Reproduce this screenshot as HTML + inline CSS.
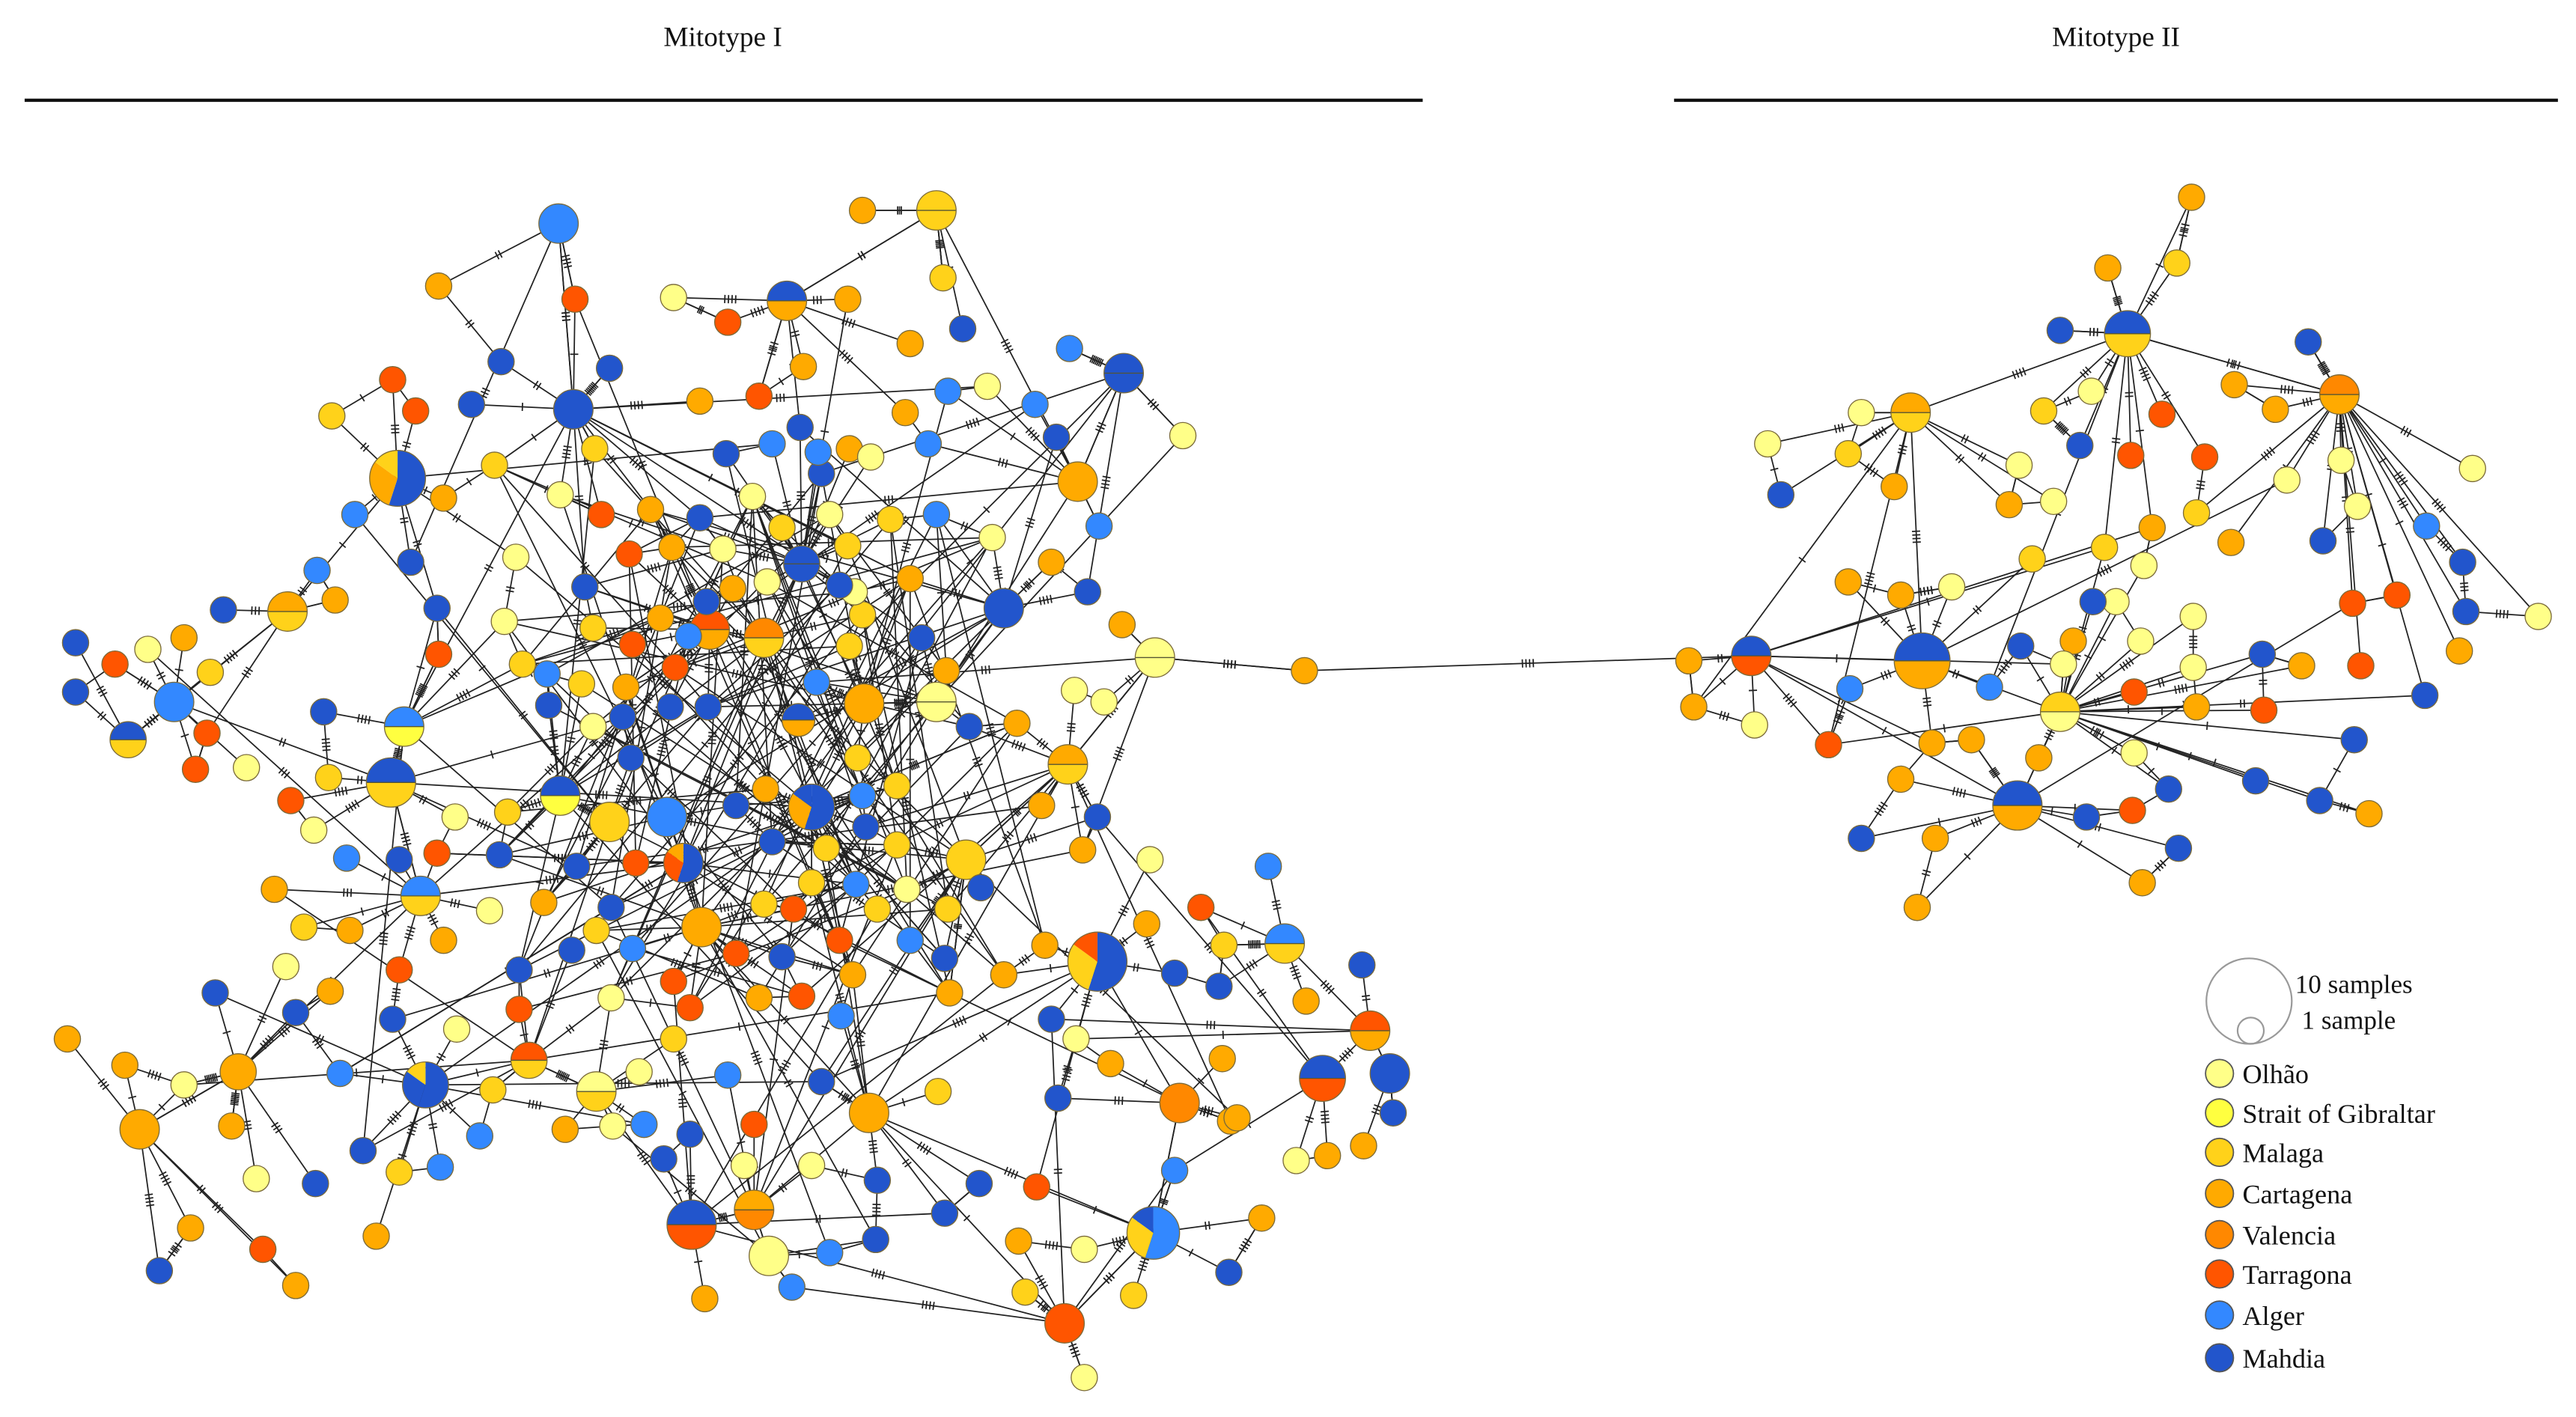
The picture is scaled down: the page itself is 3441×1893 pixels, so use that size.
<!DOCTYPE html>
<html><head><meta charset="utf-8"><style>
html,body{margin:0;padding:0;background:#fff;}
svg{display:block;}
text{font-family:"Liberation Serif",serif;fill:#111;}
</style></head><body>
<svg id="s" width="3441" height="1893" viewBox="0 0 1568 862" preserveAspectRatio="none" xmlns="http://www.w3.org/2000/svg">
<rect width="1568" height="862" fill="#fff"/>
<text x="440" y="28" font-size="17" text-anchor="middle">Mitotype I</text>
<text x="1288" y="28" font-size="17" text-anchor="middle">Mitotype II</text>
<line x1="15" y1="61" x2="866" y2="61" stroke="#111" stroke-width="2"/>
<line x1="1019" y1="61" x2="1557" y2="61" stroke="#111" stroke-width="2"/>
<g id="edges" stroke="#222" stroke-width="0.8"></g>
<g id="nodes"></g>
<g id="legend">
<circle cx="1369" cy="609" r="26" fill="none" stroke="#999" stroke-width="1"/>
<circle cx="1370" cy="627" r="8" fill="none" stroke="#999" stroke-width="1"/>
<text x="1397" y="604" font-size="16">10 samples</text>
<text x="1401" y="626" font-size="16">1 sample</text>
<circle cx="1351" cy="653" r="8.5" fill="#FFFF88" stroke="#555" stroke-width="0.8"/><text x="1365" y="659" font-size="16.5">Olhão</text>
<circle cx="1351" cy="677" r="8.5" fill="#FFFF40" stroke="#555" stroke-width="0.8"/><text x="1365" y="683" font-size="16.5">Strait of Gibraltar</text>
<circle cx="1351" cy="701" r="8.5" fill="#FFD21A" stroke="#555" stroke-width="0.8"/><text x="1365" y="707" font-size="16.5">Malaga</text>
<circle cx="1351" cy="726" r="8.5" fill="#FFAA00" stroke="#555" stroke-width="0.8"/><text x="1365" y="732" font-size="16.5">Cartagena</text>
<circle cx="1351" cy="751" r="8.5" fill="#FF8800" stroke="#555" stroke-width="0.8"/><text x="1365" y="757" font-size="16.5">Valencia</text>
<circle cx="1351" cy="775" r="8.5" fill="#FF5500" stroke="#555" stroke-width="0.8"/><text x="1365" y="781" font-size="16.5">Tarragona</text>
<circle cx="1351" cy="800" r="8.5" fill="#3388FF" stroke="#555" stroke-width="0.8"/><text x="1365" y="806" font-size="16.5">Alger</text>
<circle cx="1351" cy="826" r="8.5" fill="#2255CC" stroke="#555" stroke-width="0.8"/><text x="1365" y="832" font-size="16.5">Mahdia</text>
</g>
</svg>
<script>
var C={O:"#FFFF88",S:"#FFFF40",M:"#FFD21A",C:"#FFAA00",V:"#FF8800",T:"#FF5500",A:"#3388FF",D:"#2255CC"};
var raw1="340,136,12,A;350,182,8,T;410,181,8,O;267,174,8,C;305,220,8,D;239,231,8,T;202,253,8,M;253,250,8,T;287,246,8,D;349,249,12,D;242,291,17,DCM;216,313,8,A;270,303,8,C;301,283,8,M;362,273,8,M;371,224,8,D;426,244,8,C;443,196,8,T;462,241,8,T;489,223,8,C;479,183,12,DC;516,182,8,C;525,128,8,C;570,128,12,MM;574,169,8,M;554,209,8,C;586,200,8,D;577,238,8,A;601,235,8,O;630,246,8,A;651,212,8,A;684,227,12,DD;643,266,8,D;720,265,8,O;656,293,12,C;669,320,8,A;611,370,12,D;640,342,8,C;662,360,8,D;683,380,8,C;703,400,12,OO;654,420,8,O;672,427,8,O;619,440,8,C;590,442,8,D;570,427,12,OO;526,428,12,C;486,438,10,DC;497,415,8,A;517,393,8,M;525,374,8,M;561,388,8,D;576,408,8,C;520,360,8,O;511,356,8,D;554,352,8,C;516,332,8,M;505,313,8,O;500,288,8,D;517,273,8,C;530,278,8,O;551,251,8,C;565,270,8,A;542,316,8,M;570,313,8,A;604,327,8,O;498,275,8,A;470,270,8,A;487,260,8,D;458,302,8,O;476,321,8,M;488,343,11,DD;467,354,8,O;465,388,12,VM;432,383,12,TC;442,276,8,D;426,315,8,D;409,333,8,C;440,334,8,O;446,358,8,C;430,366,8,D;402,376,8,C;383,337,8,T;396,310,8,C;366,313,8,T;341,301,8,O;356,357,8,D;385,392,8,T;361,382,8,M;381,418,8,C;411,406,8,T;419,387,8,A;175,372,12,CM;204,365,8,C;193,347,8,A;136,371,8,D;128,409,8,M;112,388,8,C;90,395,8,O;70,404,8,T;46,391,8,D;46,421,8,D;106,427,12,A;78,450,11,DM;126,446,8,T;119,468,8,T;150,467,8,O;197,433,8,D;200,473,8,M;238,476,15,DM;246,442,12,AS;267,398,8,T;250,342,8,D;266,370,8,D;307,378,8,O;318,404,8,M;314,339,8,O;177,487,8,T;191,505,8,O;211,522,8,A;243,523,8,D;266,519,8,T;277,497,8,O;304,520,8,D;309,494,8,M;341,484,12,DS;371,500,12,M;406,497,12,A;384,461,8,D;361,442,8,O;334,429,8,D;354,416,8,M;333,410,8,A;379,436,8,D;408,430,8,D;431,430,8,D;448,490,8,D;466,480,8,C;494,491,14,DCD;525,484,8,A;546,478,8,M;522,461,8,M;167,541,8,C;213,566,8,C;185,564,8,M;256,545,12,AM;298,554,8,O;270,572,8,C;174,588,8,O;201,603,8,C;243,590,8,T;316,590,8,D;331,549,8,C;351,527,8,D;372,552,8,D;363,566,8,M;348,578,8,D;316,614,8,T;322,645,11,TM;278,626,8,O;239,620,8,D;207,653,8,A;259,660,14,DDM;300,663,8,M;292,691,8,A;268,710,8,A;221,700,8,D;243,713,8,M;192,720,8,D;229,752,8,C;156,717,8,O;141,685,8,C;145,652,11,C;112,660,8,O;85,687,12,C;76,648,8,C;41,632,8,C;131,604,8,D;180,616,8,D;116,747,8,C;97,773,8,D;160,760,8,T;180,782,8,C;416,525,12,DTC;387,525,8,T;427,564,12,C;448,580,8,T;462,607,8,C;488,606,8,T;476,582,8,D;465,550,8,M;483,553,8,T;494,537,8,M;503,516,8,M;521,538,8,A;534,553,8,M;552,541,8,O;546,514,8,M;527,503,8,D;588,523,12,M;597,540,8,D;577,553,8,M;554,572,8,A;575,583,8,D;578,604,8,C;611,593,8,C;636,575,8,C;668,585,18,DMT;640,620,8,D;655,632,8,O;676,647,8,C;644,668,8,D;718,671,12,V;749,682,8,C;731,552,8,T;745,575,8,M;700,523,8,O;668,497,8,D;659,517,8,C;634,490,8,C;650,465,12,CM;698,562,8,C;715,592,8,D;742,600,8,D;772,527,8,A;782,574,12,AM;795,609,8,C;744,644,8,C;753,680,8,C;768,741,8,C;748,774,8,D;715,712,8,A;702,750,16,AMD;690,788,8,M;660,760,8,O;631,722,8,T;648,805,12,T;660,838,8,O;624,786,8,M;620,755,8,C;596,720,8,D;575,738,8,D;534,718,8,D;533,754,8,D;529,677,12,C;500,658,8,D;519,593,8,C;512,618,8,A;511,572,8,T;470,512,8,D;459,736,12,CV;468,764,12,O;505,762,8,A;482,783,8,A;494,709,8,O;453,709,8,O;459,684,8,T;443,654,8,A;421,745,15,DT;429,790,8,C;410,632,8,M;420,613,8,T;404,705,8,D;420,690,8,D;392,684,8,A;373,685,8,O;389,652,8,O;363,664,12,OM;344,687,8,C;372,607,8,O;410,597,8,T;385,577,8,A;571,664,8,M;829,587,8,D;834,627,12,TC;805,656,14,DT;846,653,12,D;848,677,8,D;830,697,8,C;808,703,8,C;789,706,8,O;794,408,8,C";
var raw2="1334,120,8,C;1325,160,8,M;1283,163,8,C;1295,203,14,DM;1254,201,8,D;1273,238,8,O;1244,250,8,M;1266,271,8,D;1229,283,8,O;1250,305,8,O;1223,307,8,C;1297,277,8,T;1316,252,8,T;1342,278,8,T;1360,234,8,C;1385,249,8,C;1424,240,12,VC;1405,208,8,D;1281,333,8,M;1310,321,8,C;1337,312,8,M;1358,330,8,C;1392,292,8,O;1425,280,8,O;1435,308,8,O;1477,320,8,A;1505,285,8,O;1499,342,8,D;1501,372,8,D;1545,375,8,O;1497,396,8,C;1459,362,8,T;1432,367,8,T;1414,329,8,D;1377,398,8,D;1401,405,8,C;1437,405,8,T;1476,423,8,D;1433,450,8,D;1442,495,8,C;1412,487,8,D;1378,432,8,T;1373,475,8,D;1337,430,8,C;1335,406,8,O;1335,375,8,O;1303,390,8,O;1288,366,8,O;1305,344,8,O;1274,366,8,D;1262,390,8,C;1256,404,8,O;1299,421,8,T;1299,458,8,O;1241,461,8,C;1254,433,12,MO;1230,393,8,D;1237,340,8,M;1211,418,8,A;1200,450,8,C;1176,452,8,C;1170,402,17,DC;1188,357,8,O;1157,362,8,C;1125,354,8,C;1153,296,8,C;1125,276,8,M;1133,251,8,O;1163,251,12,CM;1076,270,8,O;1084,301,8,D;1066,399,12,DT;1028,402,8,C;1031,430,8,C;1068,441,8,O;1126,419,8,A;1113,453,8,T;1157,474,8,C;1133,510,8,D;1178,510,8,C;1167,552,8,C;1228,490,15,DC;1270,497,8,D;1298,493,8,T;1304,537,8,C;1326,516,8,D;1320,480,8,D";
function parse(r){return r.split(";").map(function(s){var p=s.split(",");return {x:+p[0],y:+p[1],r:+p[2],c:p[3]};});}
var N1=parse(raw1),N2=parse(raw2);
var seed=7;function rnd(){seed=(seed*16807)%2147483647;return seed/2147483647;}
var E=[];
function d(a,b){return Math.hypot(a.x-b.x,a.y-b.y);}
function build(N,dense){
 var hubs=N.filter(function(n){return n.r>=11;});
 N.forEach(function(n){
  var best=null,bd=1e9;
  hubs.forEach(function(h){if(h!==n){var dd=d(n,h);if(dd<bd){bd=dd;best=h;}}});
  if(best)E.push([n,best]);
  var nb=null,nd=1e9;
  N.forEach(function(m){if(m!==n){var dd=d(n,m);if(dd<nd){nd=dd;nb=m;}}});
  if(nb&&rnd()<0.6)E.push([n,nb]);
 });
 for(var i=0;i<dense;i++){
  var a=N[Math.floor(rnd()*N.length)],b=hubs[Math.floor(rnd()*hubs.length)];
  if(a!==b&&d(a,b)<260)E.push([a,b]);
 }
}
build(N1,400);build(N2,25);
E.push([{x:794,y:408},{x:1066,y:399}]);
var cen=N1.filter(function(n){return n.x>300&&n.x<640&&n.y>280&&n.y<620;});
for(var i=0;i<130;i++){var a=cen[Math.floor(rnd()*cen.length)],b=cen[Math.floor(rnd()*cen.length)];if(a!==b)E.push([a,b]);}
var eg=document.getElementById("edges"),h="";
E.forEach(function(e){
 var a=e[0],b=e[1];
 h+='<line x1="'+a.x+'" y1="'+a.y+'" x2="'+b.x+'" y2="'+b.y+'"/>';
 var L=d(a,b);if(L>30){var ux=(b.x-a.x)/L,uy=(b.y-a.y)/L,mx=(a.x+b.x)/2,my=(a.y+b.y)/2,k=1+Math.floor(rnd()*4);
  for(var j=0;j<k;j++){var t=(j-(k-1)/2)*2.2,px=mx+ux*t,py=my+uy*t;
   h+='<line x1="'+(px-uy*2.5).toFixed(1)+'" y1="'+(py+ux*2.5).toFixed(1)+'" x2="'+(px+uy*2.5).toFixed(1)+'" y2="'+(py-ux*2.5).toFixed(1)+'"/>';}}
});
eg.innerHTML=h;
var ng=document.getElementById("nodes"),s="";
function pt(n,a){return (n.x+n.r*Math.cos(a)).toFixed(2)+","+(n.y+n.r*Math.sin(a)).toFixed(2);}
N1.concat(N2).forEach(function(n){
 var cs=n.c.split("").map(function(k){return C[k];});
 if(cs.length==1){s+='<circle cx="'+n.x+'" cy="'+n.y+'" r="'+n.r+'" fill="'+cs[0]+'" stroke="#7a6a3a" stroke-width="0.6"/>';}
 else if(cs.length==2){
  s+='<path d="M'+(n.x-n.r)+','+n.y+' A'+n.r+','+n.r+' 0 0 1 '+(n.x+n.r)+','+n.y+' Z" fill="'+cs[0]+'"/>';
  s+='<path d="M'+(n.x-n.r)+','+n.y+' A'+n.r+','+n.r+' 0 0 0 '+(n.x+n.r)+','+n.y+' Z" fill="'+cs[1]+'"/>';
  s+='<line x1="'+(n.x-n.r)+'" y1="'+n.y+'" x2="'+(n.x+n.r)+'" y2="'+n.y+'" stroke="#553" stroke-width="0.6"/>';
  s+='<circle cx="'+n.x+'" cy="'+n.y+'" r="'+n.r+'" fill="none" stroke="#7a6a3a" stroke-width="0.6"/>';}
 else{
  var fr=[0.55,0.3,0.15],a0=-Math.PI/2;
  cs.forEach(function(c,i){var a1=a0+fr[i]*2*Math.PI;var big=fr[i]>0.5?1:0;
   s+='<path d="M'+n.x+','+n.y+' L'+pt(n,a0)+' A'+n.r+','+n.r+' 0 '+big+' 1 '+pt(n,a1)+' Z" fill="'+c+'"/>';a0=a1;});
  s+='<circle cx="'+n.x+'" cy="'+n.y+'" r="'+n.r+'" fill="none" stroke="#7a6a3a" stroke-width="0.6"/>';}
});
ng.innerHTML=s;
</script>
</body></html>
